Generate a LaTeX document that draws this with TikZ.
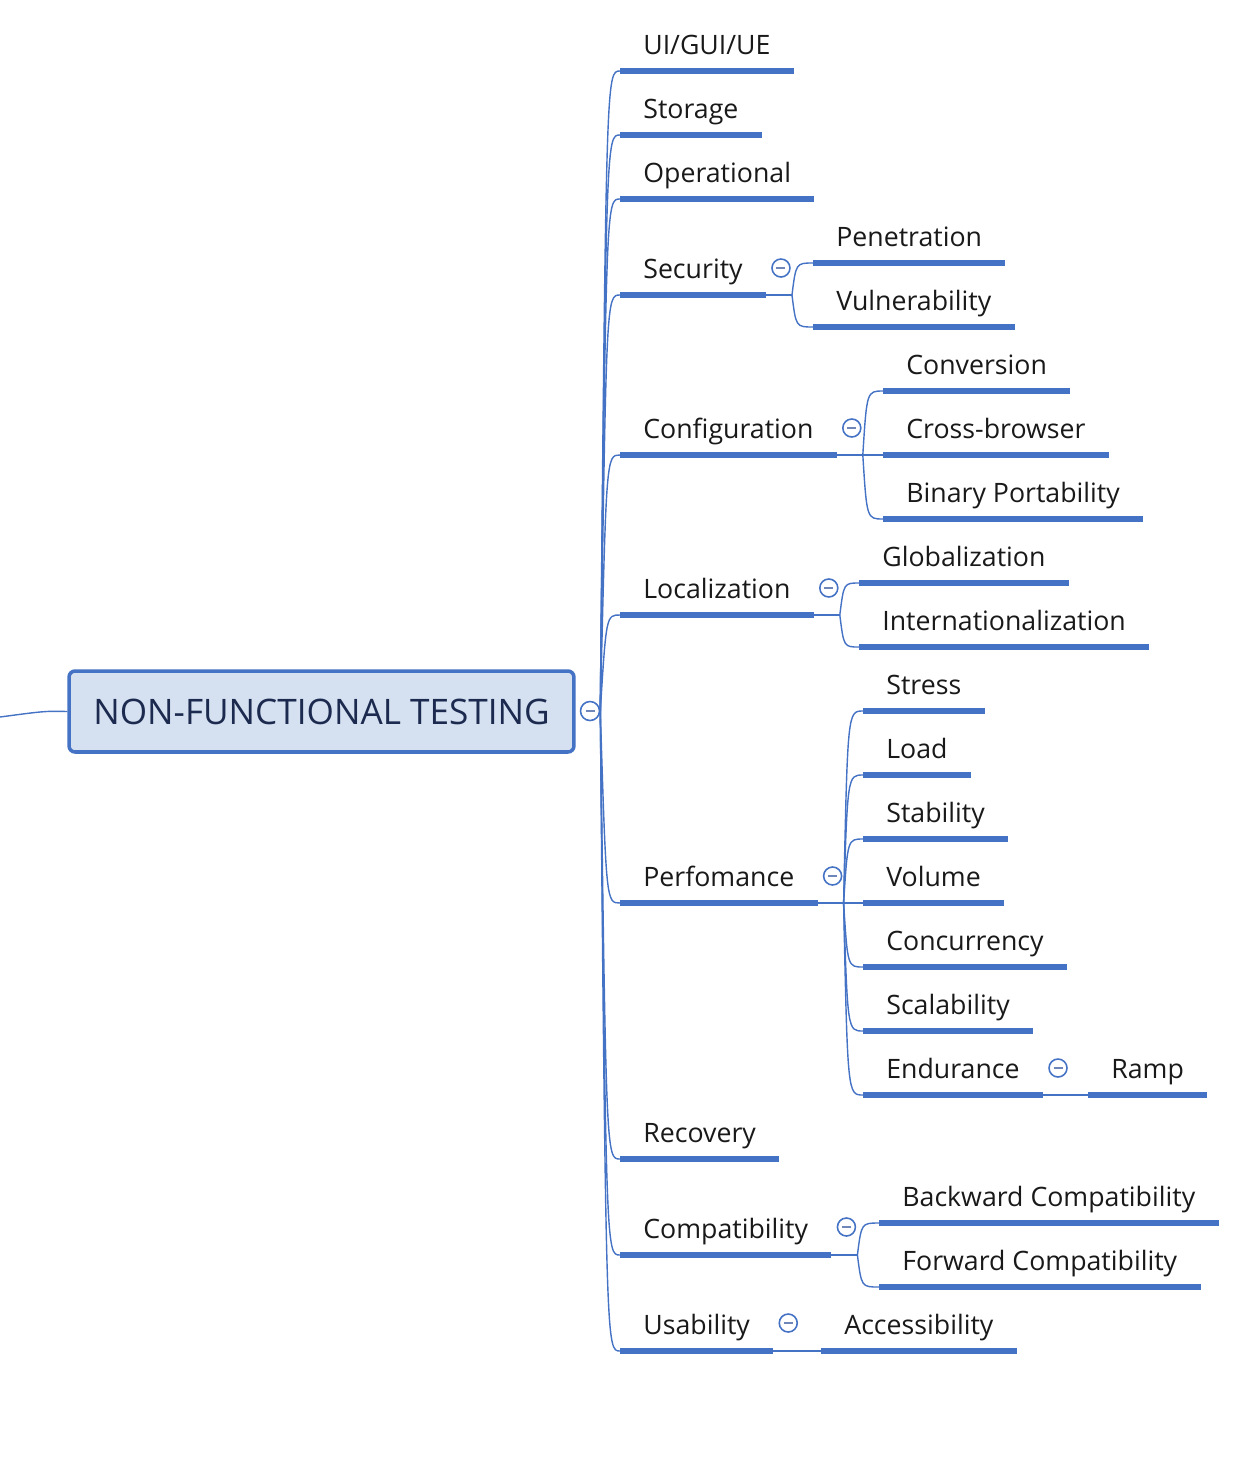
\documentclass[tikz,border=0pt]{standalone}
\usepackage{fontspec}
\setmainfont{Open Sans}
\usepackage{tikz}
\usetikzlibrary{calc}
\definecolor{mapblue}{HTML}{4472C4}
\definecolor{rootfill}{HTML}{D5E0F1}
\definecolor{roottext}{HTML}{1B2A4E}
\definecolor{minusblue}{HTML}{6F86B8}
\newcommand\topicfont{\fontsize{15.2}{18}\selectfont}
\newcommand\rootfont{\fontsize{20}{24}\selectfont}
\tikzset{
  rootbox/.style={draw=mapblue, line width=2pt, rounded corners=0.12cm, fill=rootfill,
    minimum width=10.1cm, minimum height=1.62cm, inner sep=0pt, font=\rootfont, text=roottext},
  topic/.style={anchor=south west, inner xsep=0.46cm, inner ysep=0pt, text height=0.4cm,
    text depth=0.32cm, font=\topicfont, text=black!90,
    append after command={\pgfextra{\let\topicnode\tikzlastnode}
      (\topicnode.south west) edge[topicbar] (\topicnode.south east)}},
  topicbar/.style={draw=mapblue, line width=3pt},
  link/.style={draw=mapblue, line width=0.8pt},
  branch/.style={to path={.. controls ($(\tikztostart |- \tikztotarget)+(#1,0)$) .. (\tikztotarget)}},
  branch/.default=4,
  toggle/.style={circle, draw=mapblue, line width=0.9pt, fill=white, minimum size=0.36cm, inner sep=0pt,
    path picture={\draw[minusblue, line width=1pt] ([xshift=-0.09cm]path picture bounding box.center)
      -- ([xshift=0.09cm]path picture bounding box.center);}},
}

\begin{document}
\begin{tikzpicture}[x=0.02cm, y=-0.02cm]
  \useasboundingbox (0,0) rectangle (1258,1474);
  % root
  \node[rootbox] (root) at (321.5,711.5) {NON-FUNCTIONAL TESTING};
  \node[toggle, minimum size=0.38cm] (roott) at (590,711) {};
  \coordinate (in) at (0,717);
  \draw[link] (in) .. controls (45,711) .. (root.west);

  % first level
  \node[topic] (ui) at (620,71) {UI/GUI/UE};
  \node[topic] (sto) at (620,135) {Storage};
  \node[topic] (ope) at (620,199) {Operational};
  \node[topic] (sec) at (620,295) {Security};
  \node[topic] (conf) at (620,455) {Configuration};
  \node[topic] (loc) at (620,615) {Localization};
  \node[topic] (perf) at (620,903) {Perfomance};
  \node[topic] (rec) at (620,1159) {Recovery};
  \node[topic] (comp) at (620,1255) {Compatibility};
  \node[topic] (usab) at (620,1351) {Usability};
  \foreach \n in {ui,sto,ope,sec,conf,loc,perf,rec,comp,usab}
    \draw[link] (roott.east) to[branch=6] (\n.south west);

  % security
  \node[toggle] (sect) at ($(sec.south east)+(15,-27)$) {};
  \coordinate (secj) at ($(sec.south east)+(26,0)$);
  \node[topic] (pen) at (813,263) {Penetration};
  \node[topic] (vul) at (813,327) {Vulnerability};
  \draw[link] (sec.south east) -- (secj);
  \draw[link] (secj) to[branch] (pen.south west);
  \draw[link] (secj) to[branch] (vul.south west);

  % configuration
  \node[toggle] (conft) at ($(conf.south east)+(15,-27)$) {};
  \coordinate (confj) at ($(conf.south east)+(26,0)$);
  \node[topic] (conv) at (883,391) {Conversion};
  \node[topic] (cross) at (883,455) {Cross-browser};
  \node[topic] (bin) at (883,519) {Binary Portability};
  \draw[link] (conf.south east) -- (confj);
  \draw[link] (confj) to[branch] (conv.south west);
  \draw[link] (confj) to[branch] (cross.south west);
  \draw[link] (confj) to[branch] (bin.south west);

  % localization
  \node[toggle] (loct) at ($(loc.south east)+(15,-27)$) {};
  \coordinate (locj) at ($(loc.south east)+(26,0)$);
  \node[topic] (glob) at (859,583) {Globalization};
  \node[topic] (intl) at (859,647) {Internationalization};
  \draw[link] (loc.south east) -- (locj);
  \draw[link] (locj) to[branch] (glob.south west);
  \draw[link] (locj) to[branch] (intl.south west);

  % performance
  \node[toggle] (perft) at ($(perf.south east)+(15,-27)$) {};
  \coordinate (perfj) at ($(perf.south east)+(26,0)$);
  \node[topic] (str) at (863,711) {Stress};
  \node[topic] (load) at (863,775) {Load};
  \node[topic] (stab) at (863,839) {Stability};
  \node[topic] (vol) at (863,903) {Volume};
  \node[topic] (conc) at (863,967) {Concurrency};
  \node[topic] (scal) at (863,1031) {Scalability};
  \node[topic] (endu) at (863,1095) {Endurance};
  \draw[link] (perf.south east) -- (perfj);
  \foreach \n in {str,load,stab,vol,conc,scal,endu}
    \draw[link] (perfj) to[branch] (\n.south west);
  \node[toggle] (endut) at ($(endu.south east)+(15,-27)$) {};
  \node[topic] (ramp) at (1088,1095) {Ramp};
  \draw[link] (endu.south east) -- (ramp.south west);

  % compatibility
  \node[toggle] (compt) at ($(comp.south east)+(15,-28)$) {};
  \coordinate (compj) at ($(comp.south east)+(26,0)$);
  \node[topic] (back) at (879,1223) {Backward Compatibility};
  \node[topic] (fwd) at (879,1287) {Forward Compatibility};
  \draw[link] (comp.south east) -- (compj);
  \draw[link] (compj) to[branch] (back.south west);
  \draw[link] (compj) to[branch] (fwd.south west);

  % usability
  \node[toggle] (usabt) at ($(usab.south east)+(15,-28)$) {};
  \node[topic] (acc) at (821,1351) {Accessibility};
  \draw[link] (usab.south east) -- (acc.south west);
\end{tikzpicture}
\end{document}
